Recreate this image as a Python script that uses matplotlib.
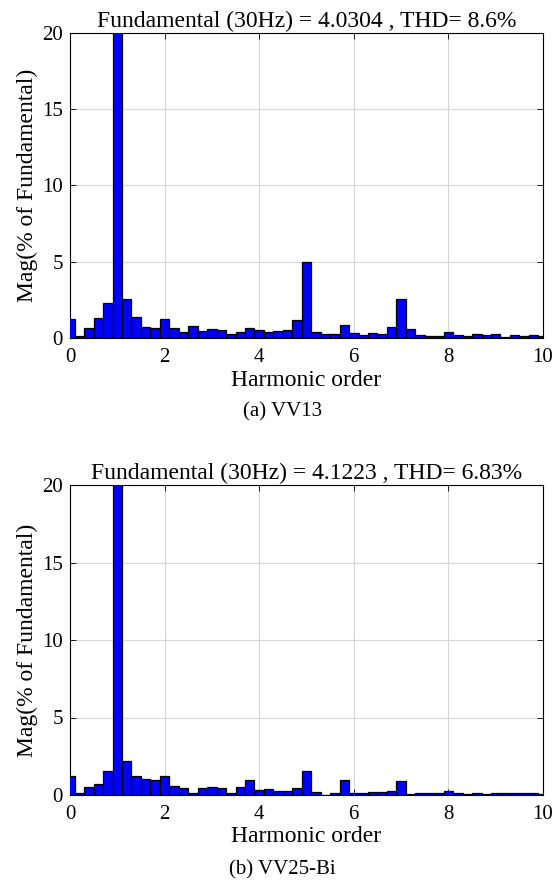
import numpy as np
import matplotlib
matplotlib.use("Agg")
import matplotlib.pyplot as plt

plt.rcParams['font.family'] = ['Liberation Serif', 'DejaVu Serif']

# Harmonic orders (0 to 10 in steps of 0.2)
orders = np.round(np.arange(0, 10.0001, 0.2), 1)

# Magnitudes in % of fundamental, case (a) VV13
mag_a = [1.23, 0.15, 0.63, 1.28, 2.29, 100.0, 2.55, 1.36, 0.69, 0.63,
         1.26, 0.63, 0.41, 0.78, 0.48, 0.56, 0.52, 0.24, 0.39, 0.65,
         0.52, 0.37, 0.48, 0.52, 1.15, 4.96, 0.39, 0.26, 0.26, 0.85,
         0.30, 0.20, 0.30, 0.28, 0.70, 2.57, 0.57, 0.17, 0.15, 0.15,
         0.41, 0.17, 0.15, 0.28, 0.22, 0.28, 0.09, 0.17, 0.15, 0.20,
         0.10]

# Magnitudes in % of fundamental, case (b) VV25-Bi
mag_b = [1.25, 0.11, 0.52, 0.69, 1.55, 100.0, 2.20, 1.21, 1.06, 0.95,
         1.25, 0.58, 0.45, 0.15, 0.45, 0.52, 0.47, 0.15, 0.54, 0.95,
         0.30, 0.41, 0.24, 0.24, 0.43, 1.53, 0.17, 0.02, 0.13, 0.97,
         0.15, 0.15, 0.19, 0.19, 0.26, 0.88, 0.09, 0.15, 0.15, 0.13,
         0.28, 0.15, 0.06, 0.15, 0.04, 0.13, 0.11, 0.11, 0.13, 0.11,
         0.05]

titles = ["Fundamental (30Hz) = 4.0304 , THD= 8.6%",
          "Fundamental (30Hz) = 4.1223 , THD= 6.83%"]
captions = ["(a) VV13", "(b) VV25-Bi"]

fig = plt.figure(figsize=(5.54, 8.90), dpi=100)

ax_rects = [[70/554, 1 - 338/890, 473/554, 305/890],
            [70/554, 1 - 795/890, 473/554, 310/890]]
caption_y = [1 - 412/890, 1 - 870/890]

for rect, mags, title, cap, cy in zip(ax_rects, [mag_a, mag_b], titles,
                                      captions, caption_y):
    ax = fig.add_axes(rect)
    ax.bar(orders, mags, width=0.2, color='#0000ff', edgecolor='black',
           linewidth=0.9, zorder=3)
    ax.set_xlim(0, 10)
    ax.set_ylim(0, 20)
    ax.set_xticks([0, 2, 4, 6, 8, 10])
    ax.set_yticks([0, 5, 10, 15, 20])
    ax.grid(True, color='#d6d6d6', linewidth=0.8, zorder=0)
    ax.tick_params(direction='in', top=True, right=True, labelsize=15,
                   length=4, width=0.6)
    ax.tick_params(axis='x', pad=7)
    ax.tick_params(axis='y', pad=5)
    for s in ax.spines.values():
        s.set_linewidth(0.8)
    ax.set_title(title, fontsize=17, pad=4)
    ax.set_xlabel("Harmonic order", fontsize=17, labelpad=2)
    ax.set_ylabel("Mag(% of Fundamental)", fontsize=17, labelpad=3)
    fig.text(0.51, cy, cap, ha='center', va='center', fontsize=15)

fig.savefig("out.png", dpi=100)
